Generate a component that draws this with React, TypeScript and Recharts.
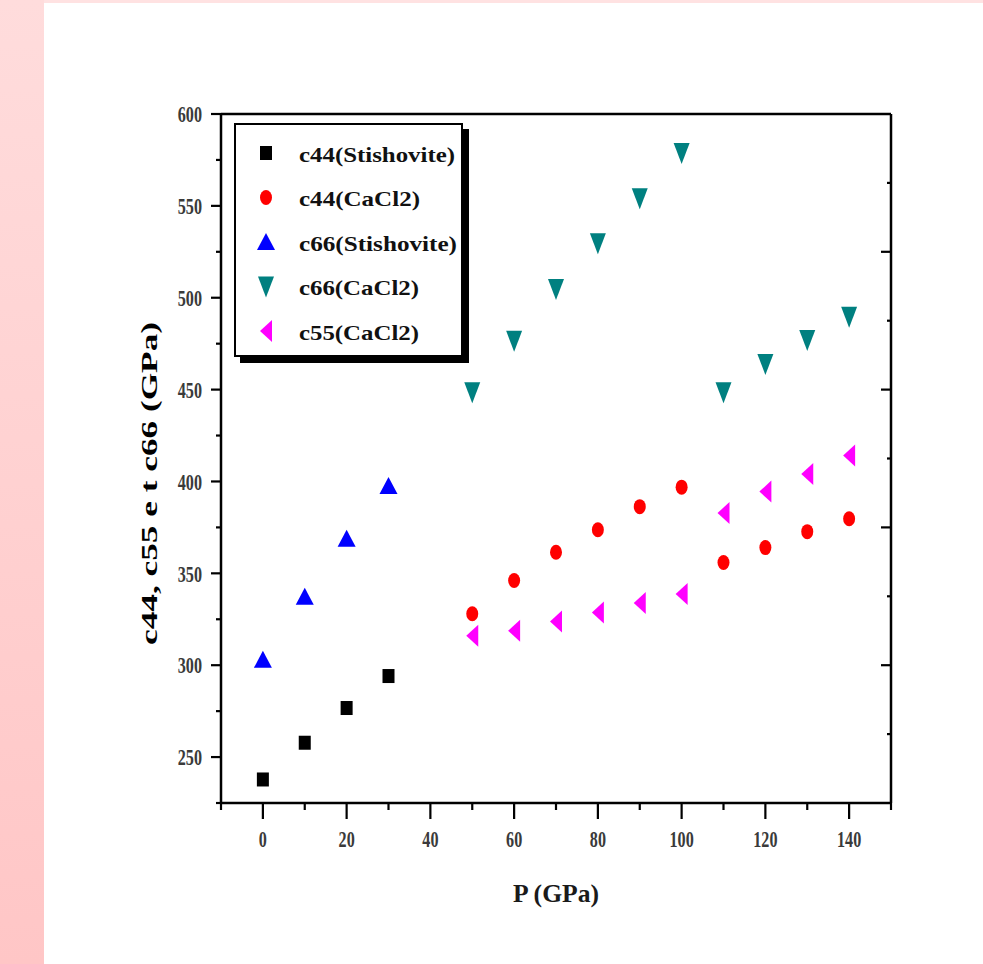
import { ScatterChart, Scatter, XAxis, YAxis, Legend } from 'recharts';

const pStishovite = [0, 10, 20, 30];
const pCaCl2 = [50, 60, 70, 80, 90, 100, 110, 120, 130, 140];

const c44Stishovite = [237.8, 257.8, 276.7, 294.1];
const c66Stishovite = [302.9, 337.2, 368.8, 397.6];
const c44CaCl2 = [328.0, 346.1, 361.5, 373.7, 386.3, 396.9, 355.9, 364.0, 372.7, 379.7];
const c66CaCl2 = [448.6, 476.6, 504.8, 529.6, 554.1, 578.8, 448.6, 464.0, 477.0, 489.7];
const c55CaCl2 = [316.0, 318.7, 323.8, 328.7, 333.8, 338.7, 382.8, 394.5, 404.1, 414.1];

const xTicks = [-10, 0, 10, 20, 30, 40, 50, 60, 70, 80, 90, 100, 110, 120, 130, 140, 150];
const xLabels = [0, 20, 40, 60, 80, 100, 120, 140];
const yTicks = [225, 250, 275, 300, 325, 350, 375, 400, 425, 450, 475, 500, 525, 550, 575, 600];
const yLabels = [250, 300, 350, 400, 450, 500, 550, 600];
const mirrorTicks = [10, 20, 30, 40, 50, 60, 70, 80, 90];

const toPoints = (ps: number[], vs: number[]) => ps.map((p, i) => ({ p, v: vs[i] }));

const FONT = '"Liberation Serif", "Times New Roman", serif';

type ShapeProps = { cx?: number; cy?: number };

const Square = ({ cx = 0, cy = 0 }: ShapeProps) => (
  <rect x={cx - 6} y={cy - 7} width={12} height={14} fill="#000" />
);
const Dot = ({ cx = 0, cy = 0 }: ShapeProps) => <ellipse cx={cx} cy={cy} rx={6} ry={7.5} fill="#ff0000" />;
const Up = ({ cx = 0, cy = 0 }: ShapeProps) => (
  <polygon points={`${cx},${cy - 9} ${cx - 9},${cy + 8} ${cx + 9},${cy + 8}`} fill="#0000ff" />
);
const Down = ({ cx = 0, cy = 0 }: ShapeProps) => (
  <polygon points={`${cx - 8},${cy - 10} ${cx + 8},${cy - 10} ${cx},${cy + 11}`} fill="#008080" />
);
const Left = ({ cx = 0, cy = 0 }: ShapeProps) => (
  <polygon points={`${cx - 6},${cy} ${cx + 6},${cy - 11} ${cx + 6},${cy + 11}`} fill="#ff00ff" />
);

const series = [
  { name: 'c44(Stishovite)', data: toPoints(pStishovite, c44Stishovite), Shape: Square, textWidth: 156 },
  { name: 'c44(CaCl2)', data: toPoints(pCaCl2, c44CaCl2), Shape: Dot, textWidth: 121 },
  { name: 'c66(Stishovite)', data: toPoints(pStishovite, c66Stishovite), Shape: Up, textWidth: 158 },
  { name: 'c66(CaCl2)', data: toPoints(pCaCl2, c66CaCl2), Shape: Down, textWidth: 120 },
  { name: 'c55(CaCl2)', data: toPoints(pCaCl2, c55CaCl2), Shape: Left, textWidth: 120 },
];

const tickText = {
  fontFamily: FONT,
  fontSize: 17,
  fontWeight: 'bold' as const,
  fill: '#3a3a3a',
};

const BottomTick = (props: any) => {
  const { x, y, payload } = props;
  const v = payload.value;
  const major = xLabels.includes(v);
  return (
    <g>
      <line x1={x} x2={x} y1={y} y2={y + (major ? 16 : 7)} stroke="#000" strokeWidth={2.2} />
      {major && (
        <text
          transform={`translate(${x},${y + 36}) scale(0.95,1.4)`}
          textAnchor="middle"
          dominantBaseline="central"
          {...tickText}
        >
          {v}
        </text>
      )}
    </g>
  );
};

const LeftTick = (props: any) => {
  const { x, y, payload } = props;
  const v = payload.value;
  const major = yLabels.includes(v);
  return (
    <g>
      <line x1={x} x2={x - (major ? 10 : 5)} y1={y} y2={y} stroke="#000" strokeWidth={2.2} />
      {major && (
        <text
          transform={`translate(${x - 19},${y}) scale(0.95,1.4)`}
          textAnchor="end"
          dominantBaseline="central"
          {...tickText}
        >
          {v}
        </text>
      )}
    </g>
  );
};

const TopTick = (props: any) => {
  const { x, y, payload } = props;
  const len = payload.value % 20 === 0 ? 10 : 4;
  return <line x1={x} x2={x} y1={y} y2={y + len} stroke="#000" strokeWidth={2.2} />;
};

const RightTick = (props: any) => {
  const { x, y, payload } = props;
  const len = payload.value % 20 === 0 ? 10 : 4;
  return <line x1={x} x2={x - len} y1={y} y2={y} stroke="#000" strokeWidth={2.2} />;
};

const LegendBox = () => (
  <div
    style={{
      width: 229,
      height: 234,
      border: '2px solid #000',
      boxShadow: '6px 6px 0 #000',
      background: '#fff',
      boxSizing: 'border-box',
    }}
  >
    <svg width={225} height={230} style={{ display: 'block' }}>
      {series.map((s, i) => {
        const cy = 28 + i * 44.5;
        return (
          <g key={s.name}>
            <s.Shape cx={30} cy={cy} />
            <text
              x={63}
              y={cy + 1}
              dominantBaseline="central"
              fontFamily={FONT}
              fontSize={22}
              fontWeight="bold"
              fill="#111"
              textLength={s.textWidth}
              lengthAdjust="spacingAndGlyphs"
            >
              {s.name}
            </text>
          </g>
        );
      })}
    </svg>
  </div>
);

export default function App() {
  return (
    <div style={{ position: 'absolute', left: 0, top: 0, width: 983, height: 964, background: '#fff' }}>
      <div
        style={{
          position: 'absolute',
          left: 0,
          top: 0,
          width: 44,
          height: 964,
          background: 'linear-gradient(#ffdcdc, #ffc6c6)',
        }}
      />
      <div style={{ position: 'absolute', left: 44, top: 0, width: 939, height: 3, background: '#ffe2e2' }} />
      <div style={{ position: 'absolute', left: 0, top: 0 }}>
        <ScatterChart width={983} height={964} margin={{ top: 113, right: 91, bottom: 71, left: 161 }}>
          <XAxis
            xAxisId={0}
            type="number"
            dataKey="p"
            domain={[-10, 150]}
            ticks={xTicks}
            interval={0}
            height={90}
            tickSize={0}
            tickMargin={0}
            tickLine={false}
            tick={<BottomTick />}
            axisLine={{ stroke: '#000', strokeWidth: 2.5 }}
            allowDataOverflow
            label={{
              content: ({ viewBox }: any) => (
                <text
                  x={viewBox.x + viewBox.width / 2}
                  y={viewBox.y + 90}
                  textAnchor="middle"
                  dominantBaseline="central"
                  fontFamily={FONT}
                  fontSize={25}
                  fontWeight="bold"
                  fill="#1a1a1a"
                  textLength={86}
                  lengthAdjust="spacingAndGlyphs"
                >
                  P (GPa)
                </text>
              ),
            }}
          />
          <XAxis
            xAxisId="top"
            orientation="top"
            type="number"
            domain={[0, 100]}
            ticks={mirrorTicks}
            interval={0}
            height={1}
            tickSize={0}
            tickMargin={0}
            tickLine={false}
            tick={<TopTick />}
            axisLine={{ stroke: '#000', strokeWidth: 2.5 }}
            allowDataOverflow
          />
          <YAxis
            yAxisId={0}
            type="number"
            dataKey="v"
            domain={[225, 600]}
            ticks={yTicks}
            interval={0}
            width={60}
            tickSize={0}
            tickMargin={0}
            tickLine={false}
            tick={<LeftTick />}
            axisLine={{ stroke: '#000', strokeWidth: 2.5 }}
            allowDataOverflow
            label={{
              content: ({ viewBox }: any) => {
                const cx = viewBox.x - 12;
                const cy = viewBox.y + viewBox.height / 2 + 25;
                return (
                  <text
                    transform={`translate(${cx},${cy}) rotate(-90)`}
                    textAnchor="middle"
                    dominantBaseline="central"
                    fontFamily={FONT}
                    fontSize={24}
                    fontWeight="bold"
                    fill="#000"
                    textLength={323}
                    lengthAdjust="spacingAndGlyphs"
                  >
                    c44, c55 e t c66 (GPa)
                  </text>
                );
              },
            }}
          />
          <YAxis
            yAxisId="right"
            orientation="right"
            type="number"
            domain={[0, 100]}
            ticks={mirrorTicks}
            interval={0}
            width={1}
            tickSize={0}
            tickMargin={0}
            tickLine={false}
            tick={<RightTick />}
            axisLine={{ stroke: '#000', strokeWidth: 2.5 }}
            allowDataOverflow
          />
          <Legend
            verticalAlign="middle"
            align="center"
            content={() => <LegendBox />}
            wrapperStyle={{ left: 234, top: 123, width: 229, height: 234 }}
          />
          {series.map((s) => (
            <Scatter
              key={s.name}
              name={s.name}
              data={s.data}
              xAxisId={0}
              yAxisId={0}
              shape={(p: any) => <s.Shape cx={p.cx} cy={p.cy} />}
              isAnimationActive={false}
            />
          ))}
        </ScatterChart>
      </div>
    </div>
  );
}
